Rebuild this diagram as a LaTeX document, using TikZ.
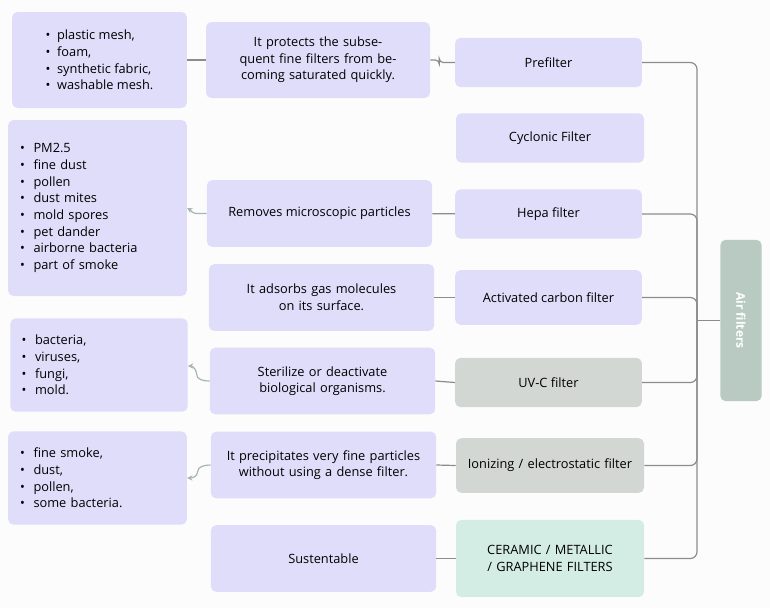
\documentclass[tikz,border=0pt]{standalone}
\usepackage{fontspec}
\setmainfont{Open Sans}
\usetikzlibrary{positioning,arrows.meta}
\definecolor{lav}{HTML}{E0DDFA}
\definecolor{grayb}{HTML}{D3D7D4}
\definecolor{mint}{HTML}{D3EDE4}
\definecolor{sage}{HTML}{B8CAC2}
\definecolor{wire}{HTML}{8C8C8C}
\definecolor{pale}{HTML}{A9B5B5}
\begin{document}
\begin{tikzpicture}[x=0.75pt,y=-0.75pt,
    box/.style={rounded corners=4pt,inner sep=0pt,align=center,font=\fontsize{9.6}{12.5}\selectfont},
    wire/.style={draw=wire,line width=0.9pt},
    back/.style={draw=pale,line width=0.9pt,-{Stealth[length=4pt,width=4pt]}}]
    \useasboundingbox (0,0) rectangle (770,608);
    \fill[white!98!gray] (0,0) rectangle (770,608);

    % lists
    \node[box,fill=lav,minimum width=131pt,minimum height=72pt,align=left] (l1) at (99.5,60)
        {\textbullet\ \ plastic mesh,\\\textbullet\ \ foam,\\\textbullet\ \ synthetic fabric,\\\textbullet\ \ washable mesh.};
    \node[box,fill=lav,minimum width=134pt,minimum height=132pt,align=left,text width=116pt] (l2) at (97.5,208)
        {\textbullet\ \ PM2.5\\\textbullet\ \ fine dust\\\textbullet\ \ pollen\\\textbullet\ \ dust mites\\\textbullet\ \ mold spores\\\textbullet\ \ pet dander\\\textbullet\ \ airborne bacteria\\\textbullet\ \ part of smoke};
    \node[box,fill=lav,minimum width=133pt,minimum height=70pt,align=left,text width=116pt] (l3) at (99,365)
        {\textbullet\ \ bacteria,\\\textbullet\ \ viruses,\\\textbullet\ \ fungi,\\\textbullet\ \ mold.};
    \node[box,fill=lav,minimum width=134pt,minimum height=70pt,align=left,text width=116pt] (l4) at (97.5,478)
        {\textbullet\ \ fine smoke,\\\textbullet\ \ dust,\\\textbullet\ \ pollen,\\\textbullet\ \ some bacteria.};

    % descriptions
    \node[box,fill=lav,minimum width=168pt,minimum height=57pt,text width=160pt] (m1) at (318,60)
        {It protects the subsequent fine filters from becoming saturated quickly.};
    \node[box,fill=lav,minimum width=169pt,minimum height=50pt] (m2) at (319.5,213.5) {Removes microscopic particles};
    \node[box,fill=lav,minimum width=169pt,minimum height=50pt,text width=160pt] (m3) at (321.5,297.5)
        {It adsorbs gas molecules on its surface.};
    \node[box,fill=lav,minimum width=169pt,minimum height=50pt,text width=160pt] (m4) at (322.5,381)
        {Sterilize or deactivate biological organisms.};
    \node[box,fill=lav,minimum width=169pt,minimum height=50pt,text width=160pt] (m5) at (323.5,465)
        {It precipitates very fine particles without using a dense filter.};
    \node[box,fill=lav,minimum width=169pt,minimum height=50pt] (m6) at (323.5,558.5) {Sustentable};

    % filters
    \node[box,fill=lav,minimum width=140pt,minimum height=37pt] (r1) at (548.5,62.5) {Prefilter};
    \node[box,fill=lav,minimum width=141pt,minimum height=37pt] (r2) at (550,138) {Cyclonic Filter};
    \node[box,fill=lav,minimum width=140pt,minimum height=37pt] (r3) at (548.5,214) {Hepa filter};
    \node[box,fill=lav,minimum width=140pt,minimum height=41pt] (r4) at (548.5,297.5) {Activated carbon filter};
    \node[box,fill=grayb,minimum width=140pt,minimum height=37pt] (r5) at (548.5,382.5) {UV-C filter};
    \node[box,fill=grayb,minimum width=141pt,minimum height=41pt,text width=130pt] (r6) at (550,465.5)
        {Ionizing / electrostatic filter};
    \node[box,fill=mint,minimum width=141pt,minimum height=58pt,text width=130pt] (r7) at (550,558.5)
        {CERAMIC / METALLIC / GRAPHENE FILTERS};
    \node[box,fill=sage,minimum width=31pt,minimum height=121pt,text=white,font=\bfseries\fontsize{9}{11}\selectfont] (air) at (741,320.5)
        {\rotatebox{-90}{Air filters}};

    % spine
    \coordinate (sp) at (697,320.5);
    \draw[wire] (air.west) -- (sp);
    \foreach \r in {r1,r3,r4,r5,r6,r7}
        \draw[wire,rounded corners=5pt] (\r.east) -| (sp);

    % links
    \draw[wire] (l1.east) -- (m1.west |- l1.east);
    \draw[wire,rounded corners=3pt] (m1.east) -- ++(9,0) |- (r1.west);
    \draw[wire] (m2) -- (r3);
    \draw[wire] (m3.east) -- (r4.west);
    \draw[wire] (m4.east) -- (r5.west);
    \draw[wire] (m5.east) -- (r6.west);
    \draw[wire] (m6.east) -- (r7.west);
    \draw[back] (m2.west) to[out=180,in=0] ++(-10,0) to[out=180,in=-30] (l2.east |- 0,208);
    \draw[back] (m4.west) to[out=180,in=-90] ++(-13,-7) to[out=90,in=0] (l3.east |- 0,366);
    \draw[back] (m5.west) to[out=180,in=90] ++(-13,7) to[out=-90,in=0] (l4.east |- 0,478);
\end{tikzpicture}
\end{document}
